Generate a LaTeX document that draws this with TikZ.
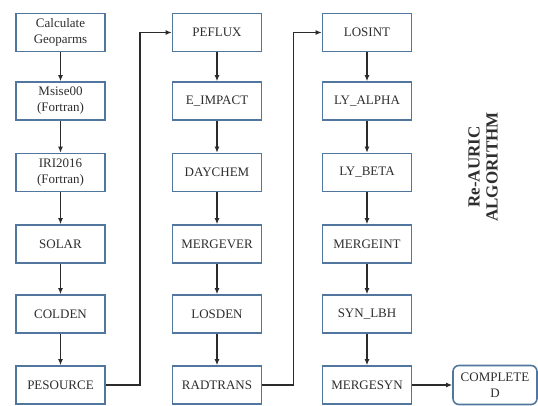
\documentclass[tikz,border=0pt]{standalone}
\usepackage{fontspec}
\setmainfont{Liberation Serif}
\usetikzlibrary{arrows.meta}
\usepackage{xcolor}
\definecolor{boxblue}{HTML}{52779F}
\definecolor{linegray}{HTML}{2B2B2B}
\definecolor{txtgray}{HTML}{2E2E2E}

\begin{document}
\begin{tikzpicture}[x=1pt,y=-1pt,
    stagebox/.style={draw=boxblue,line width=1.6pt,fill=white,minimum width=89pt,
      minimum height=38pt,align=center,inner sep=1pt,text=txtgray,
      font=\fontsize{13}{16}\selectfont},
    donebox/.style={stagebox,rounded corners=6pt,minimum width=84pt,minimum height=39pt},
    flow/.style={draw=linegray,line width=1.4pt,-{Latex[length=6pt,width=5pt]}}]
        \useasboundingbox (0,0) rectangle (538,405);
        % column 1
        \node[stagebox] (calc) at (60.5,32.5) {Calculate\\Geoparms};
        \node[stagebox] (msise) at (60.5,101) {Msise00\\(Fortran)};
        \node[stagebox] (iri) at (60.5,172.5) {IRI2016\\(Fortran)};
        \node[stagebox] (solar) at (60.5,244) {SOLAR};
        \node[stagebox] (colden) at (60.5,314) {COLDEN};
        \node[stagebox] (pesource) at (60.5,385) {PESOURCE};
        % column 2
        \node[stagebox] (peflux) at (217,32.5) {PEFLUX};
        \node[stagebox] (eimpact) at (217,101) {E\_IMPACT};
        \node[stagebox] (daychem) at (217,172.5) {DAYCHEM};
        \node[stagebox] (mergever) at (217,244) {MERGEVER};
        \node[stagebox] (losden) at (217,314) {LOSDEN};
        \node[stagebox] (radtrans) at (217,385) {RADTRANS};
        % column 3
        \node[stagebox] (losint) at (367,32.5) {LOSINT};
        \node[stagebox] (lyalpha) at (367,101) {LY\_ALPHA};
        \node[stagebox] (lybeta) at (367,172.5) {LY\_BETA};
        \node[stagebox] (mergeint) at (367,244) {MERGEINT};
        \node[stagebox] (synlbh) at (367,314) {SYN\_LBH};
        \node[stagebox] (mergesyn) at (367,385) {MERGESYN};
        \node[donebox] (completed) at (495,385) {COMPLETE\\D};
        % title
        \node[rotate=90,align=center,text=txtgray,font=\fontsize{17}{18}\selectfont\bfseries]
          (title) at (483,167) {Re-AURIC\\ALGORITHM};
        % arrows
        \draw[flow] (calc) -- (msise);
        \draw[flow] (msise) -- (iri);
        \draw[flow] (iri) -- (solar);
        \draw[flow] (solar) -- (colden);
        \draw[flow] (colden) -- (pesource);
        \draw[flow] (pesource.east) -- ++(34,0) |- (peflux.west);
        \draw[flow] (peflux) -- (eimpact);
        \draw[flow] (eimpact) -- (daychem);
        \draw[flow] (daychem) -- (mergever);
        \draw[flow] (mergever) -- (losden);
        \draw[flow] (losden) -- (radtrans);
        \draw[flow] (radtrans.east) -- ++(31,0) |- (losint.west);
        \draw[flow] (losint) -- (lyalpha);
        \draw[flow] (lyalpha) -- (lybeta);
        \draw[flow] (lybeta) -- (mergeint);
        \draw[flow] (mergeint) -- (synlbh);
        \draw[flow] (synlbh) -- (mergesyn);
        \draw[flow] (mergesyn) -- (completed);
      \end{tikzpicture}
\end{document}
